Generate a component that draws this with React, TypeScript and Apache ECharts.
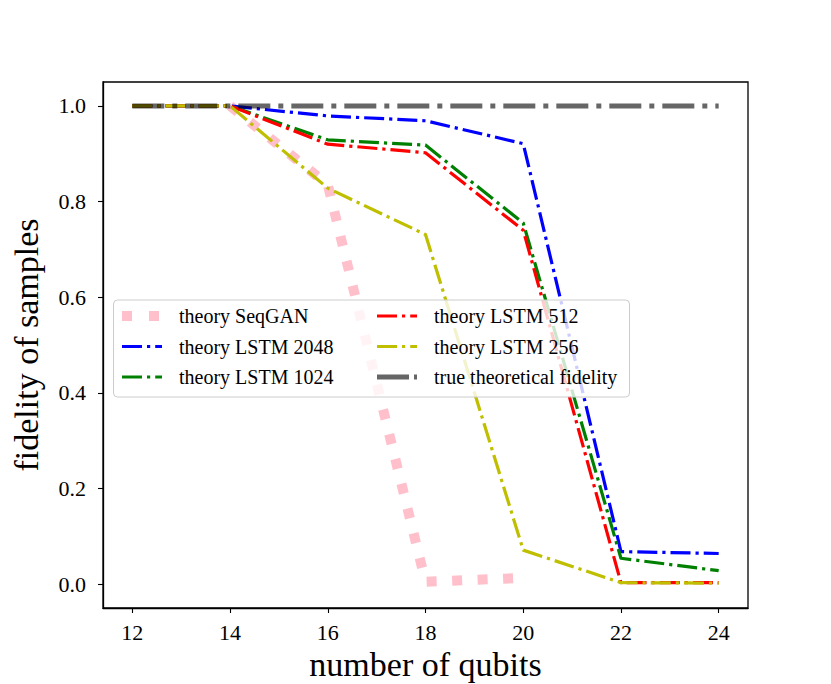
import React, { useEffect, useRef } from "react";
import * as echarts from "echarts";

const qubits = [12, 14, 16, 18, 20, 22, 24];
const seqGAN = [null, 1.0, 0.835, 0.005, 0.013, null, null];
const lstm2048 = [1.0, 1.0, 0.979, 0.969, 0.921, 0.068, 0.064];
const lstm1024 = [1.0, 1.0, 0.929, 0.918, 0.755, 0.054, 0.028];
const lstm512 = [1.0, 1.0, 0.92, 0.902, 0.74, 0.003, 0.003];
const lstm256 = [1.0, 1.0, 0.828, 0.731, 0.071, 0.003, 0.002];
const trueFidelity = [1.0, 1.0, 1.0, 1.0, 1.0, 1.0, 1.0];

const xTicks = [12, 14, 16, 18, 20, 22, 24];
const yTicks = [0, 0.2, 0.4, 0.6, 0.8, 1.0];

const names = [
  "theory SeqGAN",
  "theory LSTM 2048",
  "theory LSTM 1024",
  "theory LSTM 512",
  "theory LSTM 256",
  "true theoretical fidelity",
];

const FONT = "Liberation Serif";

// legend handle shapes (dash patterns), 40 wide
const ICON_DOTTED = "path://M0,0H10V10H0Z M27,0H37V10H27Z M40,0H40V10H40Z";
const ICON_DASHDOT = "path://M0,0H20V3.2H0Z M25,0H28.2V3.2H25Z M33.2,0H40V3.2H33.2Z";
const ICON_GRAY = "path://M0,0H32V5H0Z M37,0H40V5H37Z";

function toData(vals: (number | null)[]) {
  const out: [number, number][] = [];
  qubits.forEach((x, i) => {
    const v = vals[i];
    if (v !== null && v !== undefined) out.push([x, v]);
  });
  return out;
}

export default function App() {
  const ref = useRef<HTMLDivElement>(null);
  useEffect(() => {
    if (!ref.current) return;
    const chart = echarts.init(ref.current, undefined, { renderer: "svg" });
    const lw = 3.2;
    const dashDot = [20, 5, 3.2, 5];
    const mk = (name: string, vals: (number | null)[], color: string, width: number, type: any) => ({
      name,
      type: "line",
      data: toData(vals),
      symbol: "none",
      showSymbol: false,
      z: 2,
      lineStyle: { color, width, type, cap: "butt", join: "round" },
      itemStyle: { color },
    });
    const legendText = {
      fontFamily: FONT,
      fontSize: 20,
      color: "#000",
      lineHeight: 20,
      padding: [0, 0, 0, 12],
    };
    const legendCommon = {
      z: 4,
      orient: "vertical",
      top: 306,
      itemWidth: 40,
      itemHeight: 14,
      itemGap: 10.5,
      padding: 0,
      textStyle: legendText,
      itemStyle: { borderWidth: 0 },
      lineStyle: { width: 0, opacity: 0 },
    };
    chart.setOption({
      animation: false,
      backgroundColor: "#fff",
      grid: {
        left: 103,
        right: 83,
        top: 82,
        bottom: 76,
        containLabel: false,
        outerBoundsMode: "none",
        show: true,
        borderColor: "#000",
        borderWidth: 1.3,
        backgroundColor: "transparent",
      },
      xAxis: {
        type: "value",
        min: 11.4,
        max: 24.6,
        name: "number of qubits",
        nameLocation: "middle",
        nameGap: 39,
        nameTextStyle: { fontFamily: FONT, fontSize: 34, lineHeight: 34, color: "#000" },
        axisLine: { show: true, onZero: false, lineStyle: { color: "#000", width: 1.3 } },
        axisTick: { show: true, length: 5, lineStyle: { color: "#000", width: 1.1 }, customValues: xTicks },
        axisLabel: {
          customValues: xTicks,
          fontFamily: FONT,
          fontSize: 22,
          color: "#000",
          margin: 13,
        },
        splitLine: { show: false },
      },
      yAxis: {
        type: "value",
        min: -0.05,
        max: 1.05,
        name: "fidelity of samples",
        nameLocation: "middle",
        nameGap: 60,
        nameTextStyle: { fontFamily: FONT, fontSize: 34, color: "#000" },
        axisLine: { show: true, onZero: false, lineStyle: { color: "#000", width: 1.3 } },
        axisTick: { show: true, length: 5, lineStyle: { color: "#000", width: 1.1 }, customValues: yTicks },
        axisLabel: {
          customValues: yTicks,
          formatter: (v: number) => v.toFixed(1),
          fontFamily: FONT,
          fontSize: 22,
          color: "#000",
          margin: 17,
        },
        splitLine: { show: false },
      },
      graphic: [
        {
          type: "rect",
          z: 3,
          shape: { x: 113.5, y: 300, width: 516, height: 97, r: 4 },
          style: { fill: "rgba(255,255,255,0.8)", stroke: "#cccccc", lineWidth: 1 },
        },
      ],
      legend: [
        {
          ...legendCommon,
          left: 122,
          data: [
            { name: names[0], icon: ICON_DOTTED },
            { name: names[1], icon: ICON_DASHDOT },
            { name: names[2], icon: ICON_DASHDOT },
          ],
        },
        {
          ...legendCommon,
          left: 377,
          data: [
            { name: names[3], icon: ICON_DASHDOT },
            { name: names[4], icon: ICON_DASHDOT },
            { name: names[5], icon: ICON_GRAY },
          ],
        },
      ],
      series: [
        mk(names[0], seqGAN, "#ffc0cb", 10, [10, 15.5]),
        mk(names[1], lstm2048, "#0000ff", lw, dashDot),
        mk(names[2], lstm1024, "#008000", lw, dashDot),
        mk(names[3], lstm512, "#ff0000", lw, dashDot),
        mk(names[4], lstm256, "#bfbf00", lw, dashDot),
        mk(names[5], trueFidelity, "rgba(0,0,0,0.6)", 5, [32, 8, 5, 8]),
      ],
    });
    return () => chart.dispose();
  }, []);
  return (
    <div
      ref={ref}
      style={{ position: "fixed", left: 0, top: 0, width: 831, height: 684, background: "#fff" }}
    />
  );
}
